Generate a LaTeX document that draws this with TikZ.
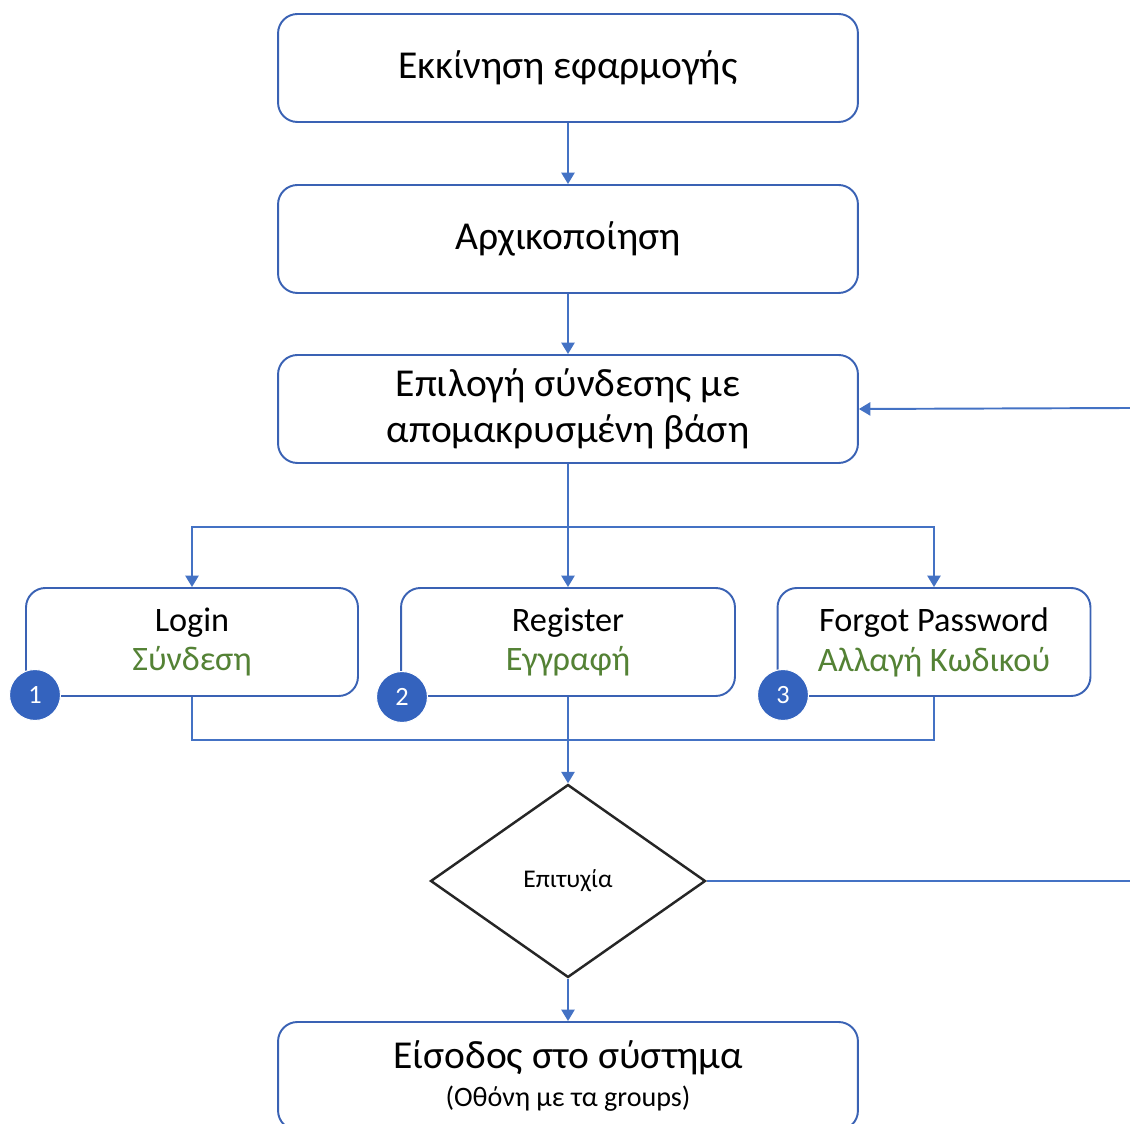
\documentclass[tikz,border=0pt]{standalone}
\usepackage{fontspec}
\setmainfont{Carlito}
\usepackage{tikz}
\usetikzlibrary{shapes.geometric,arrows.meta,positioning,calc}
\definecolor{flowblue}{RGB}{68,114,196}
\definecolor{boxblue}{RGB}{58,98,180}
\definecolor{badgeblue}{RGB}{52,99,190}
\definecolor{optgreen}{RGB}{84,130,53}

\begin{document}
\begin{tikzpicture}[
      x=0.02cm, y=-0.02cm,
      stepbox/.style={rectangle, draw=boxblue, fill=white, line width=1.1pt,
                      rounded corners=11pt, minimum width=11.6cm, minimum height=2.16cm,
                      align=center, font=\fontsize{22.5}{26.6}\selectfont},
      optbox/.style={stepbox, minimum height=2.16cm,
                     font=\fontsize{19.5}{22.7}\selectfont},
      badge/.style={circle, draw=white, line width=0.6pt, fill=badgeblue,
                    minimum size=1.02cm, inner sep=0pt, text=white,
                    font=\fontsize{15}{15}\selectfont},
      decision/.style={diamond, draw=black!85, line width=1.4pt, fill=white,
                       minimum width=5.5cm, minimum height=3.86cm, inner sep=0pt,
                       font=\fontsize{14.5}{16}\selectfont},
      link/.style={draw=flowblue, line width=1.1pt},
      arrow/.style={link, -{Triangle[length=6.5pt, width=7.5pt]}}
    ]
      \useasboundingbox (0,0) rectangle (1130,1124);
      %% main column
      \node[stepbox] (start) at (568, 68) {Εκκίνηση εφαρμογής};
      \node[stepbox] (init) at (568, 239) {Αρχικοποίηση};
      \node[stepbox] (choose) at (568, 409)
          {Επιλογή σύνδεσης με\\απομακρυσμένη βάση};
      %% three options
      \node[optbox, minimum width=6.64cm] (login) at (192, 642)
          {Login\\\textcolor{optgreen}{Σύνδεση}};
      \node[optbox, minimum width=6.68cm] (register) at (568, 642)
          {Register\\\textcolor{optgreen}{Εγγραφή}};
      \node[optbox, minimum width=6.26cm] (forgot) at (934, 642)
          {Forgot Password\\\textcolor{optgreen}{Αλλαγή Κωδικού}};
      \node[badge] (n1) at (35, 695) {1};
      \node[badge] (n2) at (402, 697) {2};
      \node[badge] (n3) at (783, 695) {3};
      %% decision and result
      \node[decision] (success) at (568, 881) {Επιτυχία};
      \node[stepbox] (enter) at (568, 1076)
          {Είσοδος στο σύστημα\\[-5pt]{\fontsize{16}{18}\selectfont (Οθόνη με τα groups)}};
      \coordinate (split) at (568, 527);
      \coordinate (join) at (568, 740);
      \coordinate (outA) at (1130, 881);
      \coordinate (outB) at (1130, 408);
      %% connectors
      \draw[arrow] (start) -- (init);
      \draw[arrow] (init) -- (choose);
      \draw[link] (choose.south) -- (split);
      \draw[arrow] (split) -| (login.north);
      \draw[arrow] (split) -| (forgot.north);
      \draw[arrow] (split) -- (register.north);
      \draw[link] (login.south) |- (join) -| (forgot.south);
      \draw[arrow] (register.south) -- (success.north);
      \draw[arrow] (success.south) -- (enter.north);
      \draw[link] (success.east) -- (outA);
      \draw[arrow] (outB) -- (choose.east);
    \end{tikzpicture}
\end{document}
